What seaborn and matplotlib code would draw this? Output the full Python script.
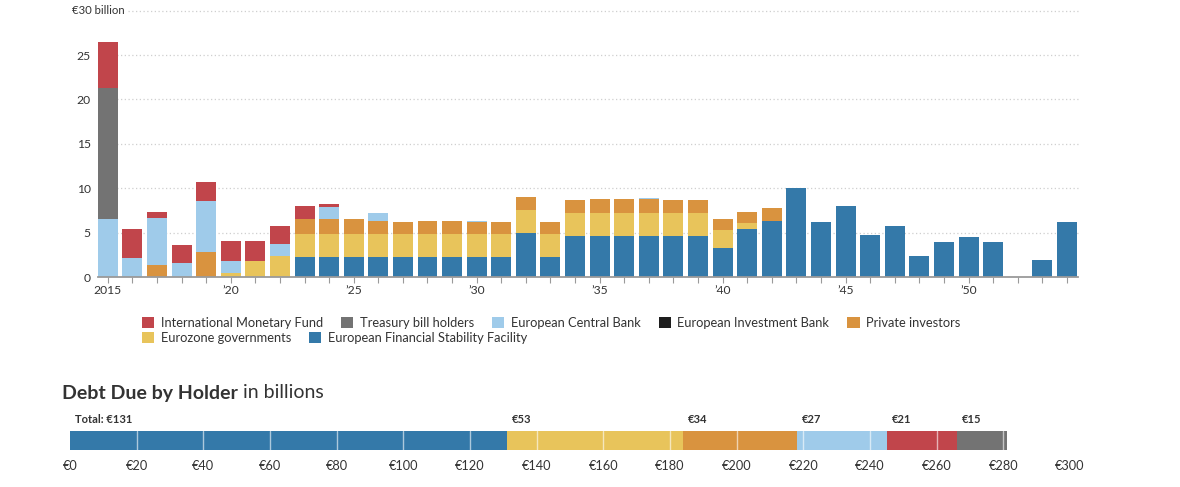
import numpy as np
import pandas as pd
import matplotlib
matplotlib.use("Agg")
import matplotlib.pyplot as plt
import seaborn as sns
from matplotlib.patches import Patch

# ---------------- data ----------------
years = list(range(2015, 2055))
holders = ["International Monetary Fund", "Treasury bill holders", "European Central Bank",
           "European Investment Bank", "Private investors", "Eurozone governments",
           "European Financial Stability Facility"]

imf = [5.15, 3.3, 0.75, 1.95, 2.15, 2.25, 2.25, 2.0, 1.45, 0.3] + [0] * 30
treasury = [14.8] + [0] * 39
ecb = [6.5, 2.15, 5.3, 1.6, 5.8, 1.3, 0, 1.35, 0, 1.4, 0, 0.95, 0, 0, 0, 0.1,
       0, 0, 0, 0, 0, 0, 0.1] + [0] * 17
eib = [0] * 40
private = [0, 0, 1.3, 0, 2.8, 0, 0, 0, 1.7, 1.7, 1.7, 1.5, 1.45, 1.55, 1.55, 1.45,
           1.35, 1.45, 1.45, 1.4, 1.5, 1.5, 1.5, 1.4, 1.4, 1.25, 1.3, 1.4] + [0] * 12
eurozone = [0, 0, 0, 0, 0, 0.5, 1.85, 2.4, 2.6, 2.6, 2.6, 2.6, 2.6, 2.6, 2.6, 2.6,
            2.6, 2.6, 2.6, 2.6, 2.6, 2.6, 2.6, 2.6, 2.6, 2.0, 0.67] + [0] * 13
efsf = [0] * 8 + [2.2, 2.2, 2.2, 2.2, 2.2, 2.2, 2.2, 2.2, 2.2, 4.95, 2.2,
                  4.65, 4.65, 4.65, 4.65, 4.65, 4.65, 3.25, 5.4, 6.35, 10.0, 6.15,
                  8.0, 4.75, 5.75, 2.4, 3.9, 4.45, 3.9, 0, 1.9, 6.15]

series = [imf, treasury, ecb, eib, private, eurozone, efsf]

major_ticks = [2015, 2020, 2025, 2030, 2035, 2040, 2045, 2050]
major_labels = ["2015", "\u201920", "\u201925", "\u201930", "\u201935", "\u201940", "\u201945", "\u201950"]
y_ticks = [0, 5, 10, 15, 20, 25]

total_holders = ["European Financial Stability Facility", "Eurozone governments",
                 "Private investors", "European Central Bank",
                 "International Monetary Fund", "Treasury bill holders"]
totals = [131, 53, 34, 27, 21, 15]
bottom_ticks = list(range(0, 301, 20))

colors = {
    "International Monetary Fund": "#c1454b",
    "Treasury bill holders": "#737373",
    "European Central Bank": "#9fcbea",
    "European Investment Bank": "#1e1e1e",
    "Private investors": "#d9933f",
    "Eurozone governments": "#e8c45b",
    "European Financial Stability Facility": "#3479a9",
}

# ---------------- style ----------------
sns.set_theme(style="white")
plt.rcParams["font.family"] = ["Lato", "DejaVu Sans"]
TXT = "#333333"

W, H = 1180, 487
fig = plt.figure(figsize=(W / 100, H / 100), dpi=100)
fig.patch.set_facecolor("white")

rows = []
for h, vals in zip(holders, series):
    for y, v in zip(years, vals):
        rows.append({"year": y, "holder": h, "value": v})
df = pd.DataFrame(rows)

ax = fig.add_axes([97.7 / W, 1 - 277 / H, (1078 - 97.7) / W, (277 - 10.6) / H])
sns.histplot(data=df, x="year", weights="value", hue="holder", hue_order=holders,
             palette=colors, multiple="stack", discrete=True, shrink=0.813,
             alpha=1, linewidth=0, legend=False, ax=ax)
ax.set_xlim(2014.59, 2054.45)
ax.set_ylim(0, 30)
ax.set_xlabel("")
ax.set_ylabel("")
for s in ["top", "right", "left"]:
    ax.spines[s].set_visible(False)
ax.spines["bottom"].set_color("#9a9a9a")
ax.spines["bottom"].set_linewidth(1.3)
ax.spines["bottom"].set_zorder(5)

for yv in [5, 10, 15, 20, 25, 30]:
    ax.axhline(yv, color="#cfcfcf", lw=0.9, ls=(0, (1, 2)), zorder=0.5, clip_on=False)

ax.set_yticks(y_ticks)
ax.set_yticklabels([str(v) for v in y_ticks])
ax.set_xticks(major_ticks)
ax.set_xticklabels(major_labels)
ax.set_xticks(years, minor=True)
ax.tick_params(axis="x", which="both", length=4, width=0.8, color="#9a9a9a",
               labelsize=8.7, labelcolor=TXT, pad=2, bottom=True)
ax.tick_params(axis="y", length=0, pad=5, labelsize=8.7, labelcolor=TXT)

fig.text(72 / W, 1 - 11 / H, "\u20ac30 billion", ha="left", va="center", fontsize=8.2,
         color=TXT, bbox=dict(fc="white", ec="none", pad=1.5))

# legend (two flowing rows)
def make_leg(names, y_top):
    handles = [Patch(facecolor=colors[n], edgecolor="none", label=n) for n in names]
    lg = fig.legend(handles=handles, loc="upper left", bbox_to_anchor=(142 / W, 1 - y_top / H),
                    ncol=len(names), frameon=False, fontsize=9.3, handlelength=0.95,
                    handleheight=0.95, handletextpad=0.5, columnspacing=1.4,
                    borderpad=0, borderaxespad=0, labelcolor=TXT)
    return lg

make_leg(holders[:5], 317)
make_leg(holders[5:], 331.5)

# bottom title
t1 = fig.text(62 / W, 1 - 393 / H, "Debt Due by Holder", ha="left", va="center",
              fontsize=14, fontweight="bold", color=TXT)
fig.canvas.draw()
bb = t1.get_window_extent(renderer=fig.canvas.get_renderer())
fig.text(bb.x1 / W + 5 / W, 1 - 393 / H, "in billions", ha="left", va="center",
         fontsize=14, color=TXT)

# bottom stacked bar
bx = fig.add_axes([70 / W, 1 - 450 / H, 1000 / W, 19 / H])
lefts = np.concatenate([[0], np.cumsum(totals)[:-1]])
bx.barh(0, totals, left=lefts, height=1, color=[colors[h] for h in total_holders], linewidth=0)
bx.set_xlim(0, 300)
bx.set_ylim(-0.5, 0.5)
for v in bottom_ticks[1:-1]:
    if v < sum(totals):
        bx.axvline(v, color="white", alpha=0.6, lw=1, zorder=3)
for i, (l, v) in enumerate(zip(lefts, totals)):
    lab = f"Total: \u20ac{v}" if i == 0 else f"\u20ac{v}"
    bx.text(l + 1.5, 1.08, lab, ha="left", va="center", fontsize=8,
            fontweight="bold", color=TXT)
for s in bx.spines.values():
    s.set_visible(False)
bx.set_yticks([])
bx.set_xticks(bottom_ticks)
bx.set_xticklabels([f"\u20ac{v}" for v in bottom_ticks])
bx.tick_params(axis="x", length=0, pad=7, labelsize=9.2, labelcolor=TXT)

fig.savefig("out.png", dpi=100, facecolor="white")
